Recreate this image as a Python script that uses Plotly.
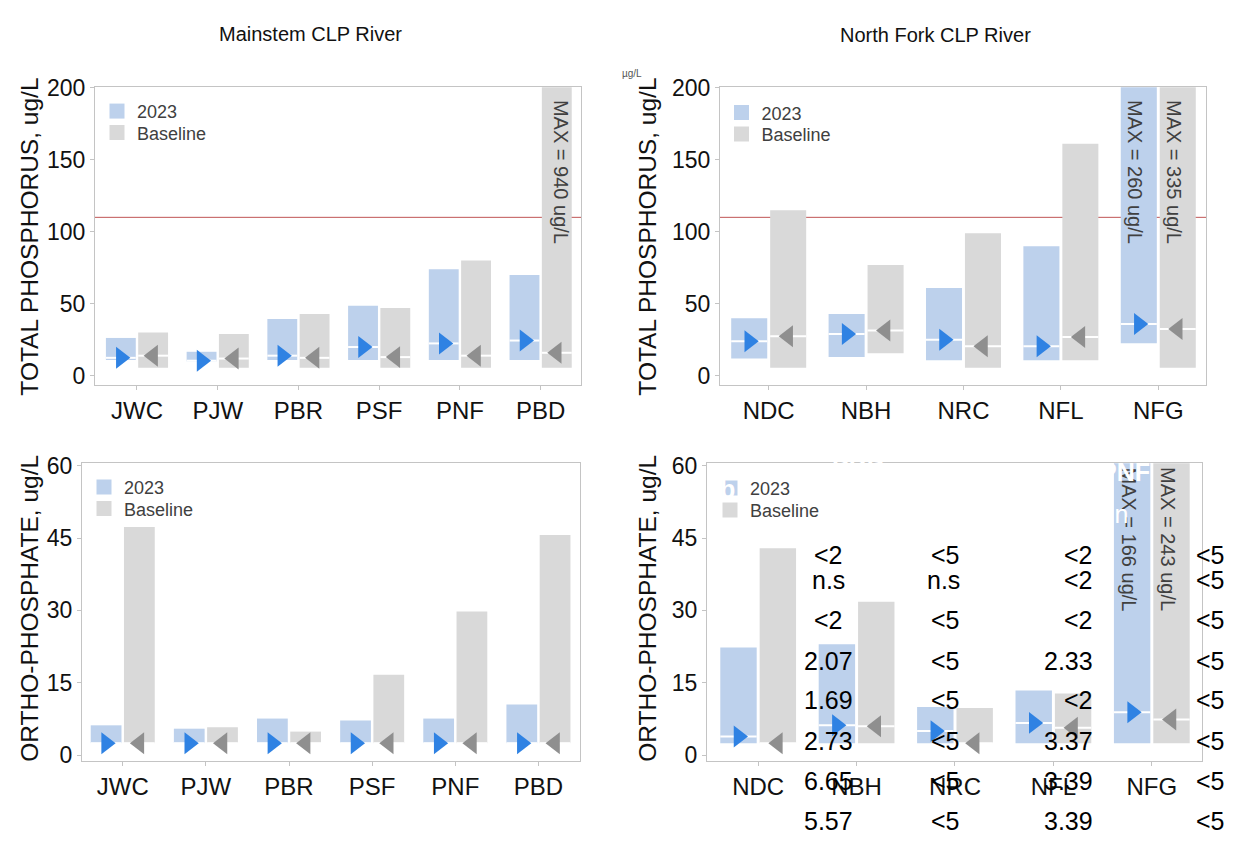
import plotly.graph_objects as go

# ---------------------------------------------------------------- data
mainstem_sites = ["JWC", "PJW", "PBR", "PSF", "PNF", "PBD"]
northfork_sites = ["NDC", "NBH", "NRC", "NFL", "NFG"]

# Total phosphorus, ug/L (min / max / median)
tp_main_2023_min = [11, 10, 11, 11, 11, 11]
tp_main_2023_max = [26.3, 16.7, 39.4, 48.6, 74, 70]
tp_main_2023_med = [12.5, 10.5, 14, 20, 22.5, 24.5]
tp_main_base_min = [5.6, 5.6, 5.6, 5.6, 5.6, 5.6]
tp_main_base_max = [30, 29, 43, 47, 80, 940]
tp_main_base_med = [14, 12, 12.5, 13, 14, 16]

tp_north_2023_min = [12, 13, 10.8, 10.8, 22.7]
tp_north_2023_max = [40, 43, 61, 90, 260]
tp_north_2023_med = [24, 29, 25, 20.5, 36]
tp_north_base_min = [5.6, 15.6, 5.6, 10.8, 5.6]
tp_north_base_max = [115, 77, 99, 161, 335]
tp_north_base_med = [27.5, 31.5, 20.5, 27, 32.5]

# Ortho-phosphate, ug/L (min / max / median)
op_main_2023_min = [2.5, 2.5, 2.5, 2.5, 2.5, 2.5]
op_main_2023_max = [6.2, 5.5, 7.6, 7.2, 7.6, 10.5]
op_main_2023_med = [2.5, 2.5, 2.5, 2.5, 2.5, 2.5]
op_main_base_min = [2.5, 2.5, 2.5, 2.5, 2.5, 2.5]
op_main_base_max = [47.3, 5.8, 4.9, 16.7, 29.8, 45.6]
op_main_base_med = [2.5, 2.5, 2.5, 2.5, 2.5, 2.5]

op_north_2023_min = [2.5, 2.5, 2.5, 2.5, 2.5]
op_north_2023_max = [22.3, 23, 10, 13.4, 166]
op_north_2023_med = [3.9, 6.2, 5, 6.7, 8.9]
op_north_base_min = [2.5, 2.5, 2.5, 2.5, 2.5]
op_north_base_max = [42.9, 31.8, 9.8, 12.8, 243]
op_north_base_med = [2.5, 6, 2.5, 5.7, 7.4]

tp_standard = 110  # ug/L

tp_ticks = [0, 50, 100, 150, 200]
op_ticks = [0, 15, 30, 45, 60]

# summary table text printed over the lower right panel
table_col1 = ["<2", "n.s", "<2", "2.07", "1.69", "2.73", "6.65", "5.57"]
table_col2 = ["<5", "n.s", "<5", "<5", "<5", "<5", "<5", "<5"]
table_col3 = ["<2", "<2", "<2", "2.33", "<2", "3.37", "3.39", "3.39"]
table_col4 = ["<5", "<5", "<5", "<5", "<5", "<5", "<5", "<5"]

# ---------------------------------------------------------------- style
W, H = 1255, 853
FONT = "Liberation Sans, Arial, sans-serif"
BLUE_BAR = "#bdd1ec"
GRAY_BAR = "#d9d9d9"
BLUE_TRI = "#2f82e3"
GRAY_TRI = "#8f8f8f"
FRAME = "#c4c4c4"
RED = "#c05555"
BAR_W = 0.37
OFFSET = 0.2
LEGEND_ROW_OFFSET = 18.2   # px from a legend's top edge to its item centre


def px_x(p):
    return p / W


def px_y(p):
    return 1 - p / H


fig = go.Figure()

panels = [
    dict(sites=mainstem_sites,
         new=(tp_main_2023_min, tp_main_2023_max, tp_main_2023_med),
         base=(tp_main_base_min, tp_main_base_max, tp_main_base_med),
         ax="", legends=(("legend", 97, 100), ("legend2", 97, 122)),
         xr=[-0.52, 5.5], yr=[-6.4, 200.3],
         xdom=[95, 581], ydom=[76, 381], ticks=tp_ticks, standard=True),
    dict(sites=northfork_sites,
         new=(tp_north_2023_min, tp_north_2023_max, tp_north_2023_med),
         base=(tp_north_base_min, tp_north_base_max, tp_north_base_med),
         ax="2", legends=(("legend3", 721.5, 101.5), ("legend4", 721.5, 123.5)),
         xr=[-0.5, 4.49], yr=[-6.4, 200.3],
         xdom=[720, 1206], ydom=[76, 381], ticks=tp_ticks, standard=True),
    dict(sites=mainstem_sites,
         new=(op_main_2023_min, op_main_2023_max, op_main_2023_med),
         base=(op_main_base_min, op_main_base_max, op_main_base_med),
         ax="3", legends=(("legend5", 84, 485), ("legend6", 84, 507)),
         xr=[-0.49, 5.5], yr=[-1.2, 60.5],
         xdom=[82, 580], ydom=[461, 766], ticks=op_ticks, standard=False),
    dict(sites=northfork_sites,
         new=(op_north_2023_min, op_north_2023_max, op_north_2023_med),
         base=(op_north_base_min, op_north_base_max, op_north_base_med),
         ax="4", legends=(("legend7", 710, 486), ("legend8", 710, 508.5)),
         xr=[-0.52, 4.51], yr=[-1.2, 60.5],
         xdom=[707, 1202], ydom=[461, 766], ticks=op_ticks, standard=False),
]

layout_legends = {}
for p in panels:
    xa = "x" + p["ax"]
    ya = "y" + p["ax"]
    idx = list(range(len(p["sites"])))
    series = [
        ("new", -OFFSET, BLUE_BAR, BLUE_TRI, "triangle-right", "2023"),
        ("base", OFFSET, GRAY_BAR, GRAY_TRI, "triangle-left", "Baseline"),
    ]
    for (key, shift, bar_col, tri_col, sym, name), (lg, lgx, lgy) in zip(
            series, p["legends"]):
        lo, hi, med = p[key]
        xs = [i + shift for i in idx]
        # range bar from min to max
        fig.add_trace(go.Bar(
            x=xs, y=[h - l for l, h in zip(lo, hi)], base=lo, width=BAR_W,
            marker=dict(color=bar_col, line=dict(width=0)),
            xaxis=xa, yaxis=ya, showlegend=False, hoverinfo="skip"))
        # white median tick across each bar
        lx, ly = [], []
        for x, m in zip(xs, med):
            lx += [x - BAR_W / 2, x + BAR_W / 2, None]
            ly += [m, m, None]
        fig.add_trace(go.Scatter(
            x=lx, y=ly, mode="lines", line=dict(color="white", width=2),
            xaxis=xa, yaxis=ya, showlegend=False, hoverinfo="skip"))
        # median marker
        fig.add_trace(go.Scatter(
            x=xs, y=med, mode="markers",
            marker=dict(symbol=sym, size=19, color=tri_col, line=dict(width=0)),
            xaxis=xa, yaxis=ya, showlegend=False, cliponaxis=False))
        # legend swatch, one single-entry legend per series
        fig.add_trace(go.Scatter(
            x=[None], y=[None], mode="markers", name=name,
            marker=dict(symbol="square", size=15, color=bar_col),
            xaxis=xa, yaxis=ya, legend=lg, showlegend=True))
        layout_legends[lg] = dict(
            x=px_x(lgx), y=px_y(lgy - LEGEND_ROW_OFFSET),
            xanchor="left", yanchor="top",
            bgcolor="rgba(0,0,0,0)", borderwidth=0,
            font=dict(size=18, color="#404040", family=FONT),
            itemsizing="trace")

    axis_common = dict(showline=True, mirror=True, linecolor=FRAME, linewidth=1,
                       showgrid=False, zeroline=False, ticks="outside",
                       ticklen=4, tickcolor=FRAME, tickwidth=1)
    fig.update_layout(**{
        ("xaxis" + p["ax"]): dict(
            domain=[px_x(p["xdom"][0]), px_x(p["xdom"][1])],
            range=p["xr"], tickvals=idx, ticktext=p["sites"],
            tickfont=dict(size=24, color="#111111", family=FONT),
            anchor=ya, **axis_common),
        ("yaxis" + p["ax"]): dict(
            domain=[px_y(p["ydom"][1]), px_y(p["ydom"][0])],
            range=p["yr"], tickvals=p["ticks"],
            tickfont=dict(size=23, color="#111111", family=FONT),
            anchor=xa, **axis_common),
    })

    if p["standard"]:
        fig.add_shape(type="line", layer="below",
                      xref=xa + " domain", yref=ya, x0=0, x1=1,
                      y0=tp_standard, y1=tp_standard,
                      line=dict(color=RED, width=1))

fig.update_layout(**layout_legends)

annotations = []


def note(text, x, y, size, color="#111111", angle=0):
    annotations.append(dict(
        text=text, x=x, y=y, xref="paper", yref="paper", showarrow=False,
        textangle=angle, xanchor="center", yanchor="middle",
        font=dict(size=size, color=color, family=FONT)))


# panel titles
note("Mainstem CLP River", px_x(310), px_y(21), 20)
note("North Fork CLP River", px_x(935), px_y(23), 20)
note("µg/L", px_x(632), px_y(62), 10, color="#555555")

# y-axis titles
note("TOTAL PHOSPHORUS, ug/L", px_x(30), px_y(229), 24.5, angle=-90)
note("TOTAL PHOSPHORUS, ug/L", px_x(648), px_y(229), 24.5, angle=-90)
note("ORTHO-PHOSPHATE, ug/L", px_x(30), px_y(610), 24.5, angle=-90)
note("ORTHO-PHOSPHATE, ug/L", px_x(648), px_y(610), 24.5, angle=-90)

fig.update_layout(annotations=annotations)


# off-scale maxima written inside the clipped bars
def max_label(value, site_idx, shift, xa, ya, y_top, xs=0):
    fig.add_annotation(
        text=f"MAX = {value:g} ug/L", x=site_idx + shift, y=y_top,
        xref=xa, yref=ya, showarrow=False, textangle=90,
        xanchor="center", yanchor="top", xshift=xs,
        font=dict(size=20, color="#404040", family=FONT))


max_label(tp_main_base_max[5], 5, OFFSET, "x", "y", 193, xs=4)
max_label(tp_north_2023_max[4], 4, -OFFSET, "x2", "y2", 193, xs=-4)
max_label(tp_north_base_max[4], 4, OFFSET, "x2", "y2", 193, xs=-3)
max_label(op_north_2023_max[4], 4, -OFFSET, "x4", "y4", 60, xs=-3)
max_label(op_north_base_max[4], 4, OFFSET, "x4", "y4", 60, xs=-3)

# summary table text over the lower right panel
col_x = [829, 962, 1094.5, 1227]
row_y = [555.4, 596.5, 638, 680, 720, 761.7, 803, 843.7]
for cx, col in zip(col_x, [table_col1, table_col2, table_col3, table_col4]):
    for ry, t in zip(row_y, col):
        fig.add_annotation(text=t, x=px_x(cx), y=px_y(ry), xref="paper",
                           yref="paper", showarrow=False,
                           font=dict(size=25, color="black", family=FONT))
# white header text of the same table (mostly lost against the background)
for t, cx, cy, bold in [("PNF", 1152, 470, True), ("min", 1130, 513, False),
                        ("b", 727, 487, True), ("PBD", 887, 466, True)]:
    fig.add_annotation(text=("<b>" + t + "</b>") if bold else t,
                       x=px_x(cx), y=px_y(cy), xref="paper", yref="paper",
                       showarrow=False,
                       font=dict(size=25, color="white", family=FONT))

fig.update_layout(
    width=W, height=H, autosize=False,
    margin=dict(l=0, r=0, t=0, b=0),
    paper_bgcolor="white", plot_bgcolor="white",
    barmode="overlay", font=dict(family=FONT),
)

# page without body margin so the figure fills the window exactly
fig.write_html(
    "out.html",
    post_script="document.body.style.margin='0';"
                "document.documentElement.style.overflow='hidden';",
)
